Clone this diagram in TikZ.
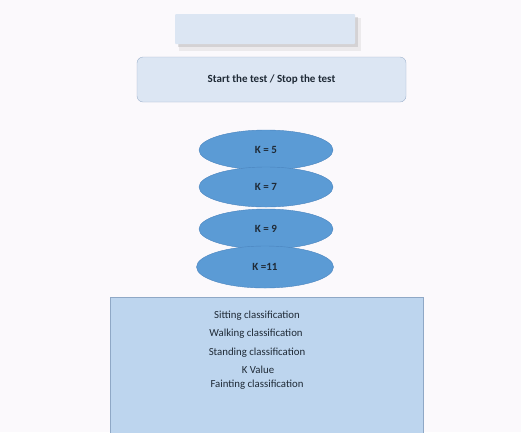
\documentclass[tikz,border=0pt]{standalone}
\usepackage{fontspec}
\setmainfont{Carlito}
\usetikzlibrary{shapes.geometric, positioning}
\definecolor{pagebg}{HTML}{FBF9FC}
\definecolor{paleblue}{HTML}{DCE6F3}
\definecolor{paleedge}{HTML}{9DB1CC}
\definecolor{kblue}{HTML}{5B9BD5}
\definecolor{kedge}{HTML}{4A84BE}
\definecolor{listblue}{HTML}{BDD5EE}
\definecolor{listedge}{HTML}{8FA8C6}
\definecolor{inktext}{HTML}{1F2A36}

\begin{document}
\begin{tikzpicture}[x=1pt, y=-1pt,
		kval/.style={ellipse, draw=kedge, fill=kblue, minimum width=134pt, minimum height=40pt, inner sep=0pt, font=\fontsize{11}{12}\selectfont\bfseries, text=inktext},
		item/.style={font=\fontsize{10.8}{12}\selectfont, text=inktext}]
		\useasboundingbox (0,0) rectangle (521,432);
		\fill[pagebg] (0,0) rectangle (521,432);
		\fill[gray, opacity=0.12] (179,18) rectangle (361,51);
		\fill[gray, opacity=0.22] (178,17) rectangle (358,47);
		\node[draw=none, fill=paleblue, rounded corners=1pt, minimum width=180pt, minimum height=30pt] (top) at (265,29) {};
		\node[draw=paleedge, fill=paleblue, rounded corners=6pt, minimum width=269pt, minimum height=45pt, font=\fontsize{11}{12}\selectfont\bfseries, text=inktext] (start) at (271.5,79.5) {Start the test / Stop the test};
		\node[kval] (k5) at (266,150) {K = 5};
		\node[kval] (k7) at (266,187) {K = 7};
		\node[kval] (k9) at (266,229) {K = 9};
		\node[kval, minimum width=137pt, minimum height=42pt] (k11) at (265,267) {K =11};
		\draw[listedge, fill=listblue] (110,297) rectangle (423,440);
		\node[item] (sit) at (257,316) {Sitting classification};
		\node[item] (walk) at (256,334) {Walking classification};
		\node[item] (stand) at (257,353) {Standing classification};
		\node[item] (kv) at (258,370) {K Value};
		\node[item] (faint) at (257,385) {Fainting classification};
	\end{tikzpicture}
\end{document}
